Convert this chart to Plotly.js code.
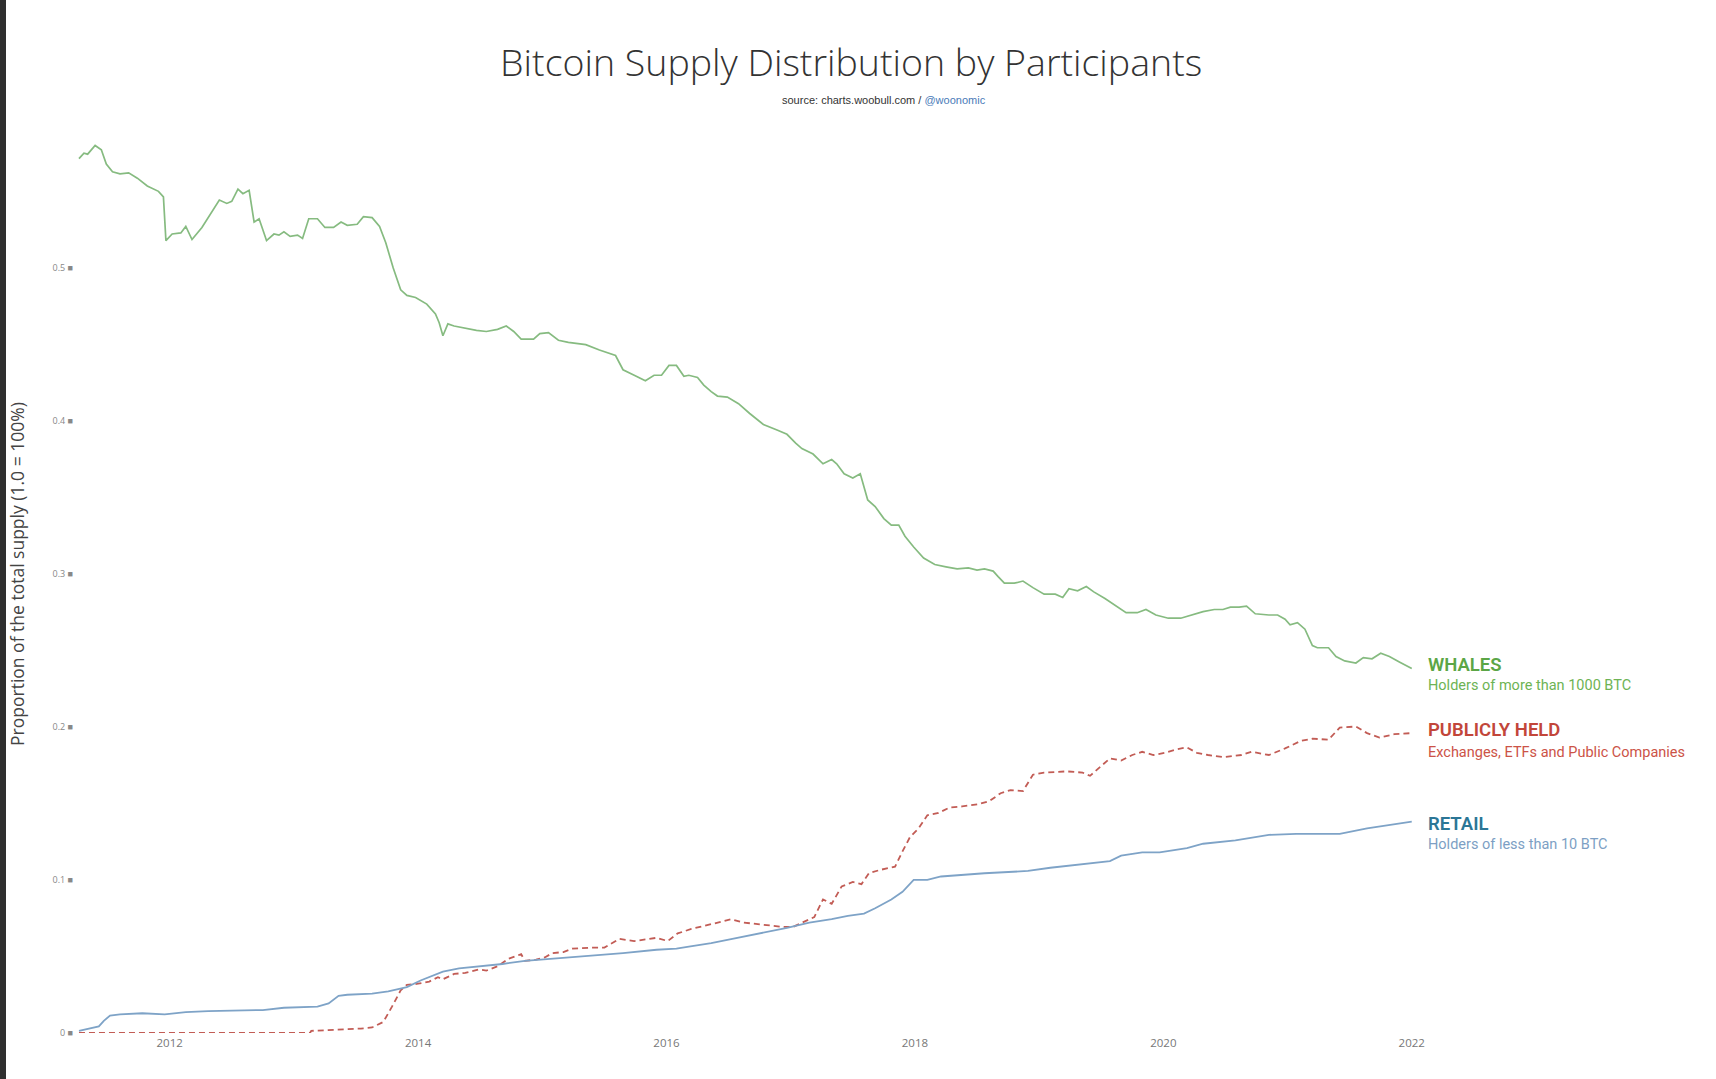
<!DOCTYPE html>
<html>
<head>
<meta charset="utf-8">
<script src="https://cdn.plot.ly/plotly-3.0.1.min.js"></script>
<style>
  html, body { margin: 0; padding: 0; background: #fff; }
  #leftbar { position: absolute; left: 0; top: 0; width: 6px; height: 1079px; background: #2f2f2f; z-index: 2; }
  #chart { width: 1716px; height: 1079px; }
</style>
</head>
<body>
<div id="leftbar"></div>
<div id="chart"></div>
<script>
// 고래 (>1000 BTC) - 연도(소수), 공급 비율
const whaleYears = [2011.27, 2011.31, 2011.34, 2011.40, 2011.45, 2011.49, 2011.54, 2011.60, 2011.67, 2011.74,
  2011.82, 2011.91, 2011.95, 2011.97, 2012.02, 2012.09, 2012.13, 2012.18, 2012.26, 2012.33,
  2012.40, 2012.46, 2012.50, 2012.55, 2012.59, 2012.64, 2012.68, 2012.72, 2012.78, 2012.84,
  2012.88, 2012.92, 2012.97, 2013.03, 2013.07, 2013.12, 2013.19, 2013.25, 2013.32, 2013.38,
  2013.43, 2013.51, 2013.56, 2013.63, 2013.69, 2013.74, 2013.80, 2013.86, 2013.91, 2013.98,
  2014.07, 2014.14, 2014.17, 2014.20, 2014.24, 2014.29, 2014.38, 2014.47, 2014.55, 2014.64,
  2014.71, 2014.77, 2014.83, 2014.93, 2014.98, 2015.05, 2015.13, 2015.21, 2015.35, 2015.46,
  2015.59, 2015.65, 2015.74, 2015.83, 2015.90, 2015.96, 2016.02, 2016.08, 2016.14, 2016.18,
  2016.25, 2016.30, 2016.36, 2016.41, 2016.49, 2016.58, 2016.67, 2016.78, 2016.89, 2016.97,
  2017.04, 2017.09, 2017.18, 2017.26, 2017.33, 2017.37, 2017.43, 2017.50, 2017.56, 2017.62,
  2017.68, 2017.75, 2017.81, 2017.87, 2017.92, 2017.99, 2018.07, 2018.16, 2018.25, 2018.34,
  2018.43, 2018.50, 2018.56, 2018.63, 2018.67, 2018.72, 2018.80, 2018.87, 2018.95, 2019.04,
  2019.13, 2019.19, 2019.24, 2019.31, 2019.38, 2019.44, 2019.53, 2019.61, 2019.70, 2019.79,
  2019.86, 2019.94, 2020.04, 2020.14, 2020.23, 2020.32, 2020.41, 2020.48, 2020.54, 2020.61,
  2020.67, 2020.74, 2020.85, 2020.92, 2020.98, 2021.02, 2021.08, 2021.14, 2021.20, 2021.24,
  2021.33, 2021.39, 2021.46, 2021.55, 2021.61, 2021.68, 2021.75, 2021.82, 2021.90, 2022.00];
const whaleValues = [0.5715, 0.5751, 0.5744, 0.5801, 0.5773, 0.5680, 0.5629, 0.5615, 0.5622, 0.5587,
  0.5536, 0.5501, 0.5465, 0.5179, 0.5222, 0.5229, 0.5272, 0.5186, 0.5265, 0.5358,
  0.5444, 0.5422, 0.5436, 0.5515, 0.5486, 0.5508, 0.5300, 0.5322, 0.5179, 0.5222,
  0.5215, 0.5236, 0.5207, 0.5215, 0.5193, 0.5322, 0.5322, 0.5265, 0.5265, 0.5300,
  0.5279, 0.5286, 0.5336, 0.5329, 0.5272, 0.5165, 0.5000, 0.4857, 0.4821, 0.4807,
  0.4764, 0.4700, 0.4642, 0.4557, 0.4635, 0.4621, 0.4607, 0.4592, 0.4585, 0.4599,
  0.4621, 0.4585, 0.4535, 0.4535, 0.4571, 0.4578, 0.4528, 0.4514, 0.4499, 0.4464,
  0.4428, 0.4335, 0.4299, 0.4263, 0.4299, 0.4299, 0.4363, 0.4363, 0.4292, 0.4299,
  0.4285, 0.4235, 0.4192, 0.4163, 0.4156, 0.4113, 0.4049, 0.3977, 0.3941, 0.3913,
  0.3856, 0.3820, 0.3784, 0.3720, 0.3748, 0.3720, 0.3655, 0.3627, 0.3655, 0.3484,
  0.3441, 0.3362, 0.3319, 0.3319, 0.3247, 0.3176, 0.3104, 0.3062, 0.3047, 0.3033,
  0.3040, 0.3026, 0.3033, 0.3019, 0.2983, 0.2940, 0.2940, 0.2954, 0.2911, 0.2868,
  0.2868, 0.2847, 0.2904, 0.2890, 0.2918, 0.2883, 0.2840, 0.2797, 0.2747, 0.2747,
  0.2768, 0.2732, 0.2711, 0.2711, 0.2732, 0.2754, 0.2768, 0.2768, 0.2783, 0.2783,
  0.2790, 0.2740, 0.2732, 0.2732, 0.2704, 0.2668, 0.2682, 0.2639, 0.2532, 0.2518,
  0.2518, 0.2461, 0.2432, 0.2418, 0.2454, 0.2446, 0.2482, 0.2461, 0.2425, 0.2382];

// 거래소/ETF/상장사 보유분
const publicYears = [2011.27, 2013.13, 2013.14, 2013.36, 2013.54, 2013.63, 2013.72, 2013.79, 2013.86, 2013.91,
  2014.00, 2014.09, 2014.16, 2014.20, 2014.29, 2014.38, 2014.49, 2014.55, 2014.64, 2014.73,
  2014.83, 2014.86, 2014.95, 2015.02, 2015.08, 2015.17, 2015.24, 2015.39, 2015.50, 2015.62,
  2015.74, 2015.92, 2016.01, 2016.09, 2016.20, 2016.31, 2016.45, 2016.52, 2016.62, 2016.80,
  2016.93, 2017.02, 2017.11, 2017.19, 2017.26, 2017.33, 2017.41, 2017.50, 2017.57, 2017.63,
  2017.72, 2017.84, 2017.90, 2017.96, 2018.03, 2018.10, 2018.19, 2018.28, 2018.38, 2018.51,
  2018.60, 2018.69, 2018.77, 2018.87, 2018.95, 2019.04, 2019.22, 2019.35, 2019.41, 2019.48,
  2019.57, 2019.66, 2019.75, 2019.83, 2019.92, 2020.01, 2020.10, 2020.19, 2020.27, 2020.36,
  2020.49, 2020.63, 2020.71, 2020.85, 2020.98, 2021.11, 2021.20, 2021.33, 2021.42, 2021.55,
  2021.64, 2021.74, 2021.86, 2022.00];
const publicValues = [0, 0, 0.0014, 0.0021, 0.0029, 0.0036, 0.0072, 0.0172, 0.0279, 0.0315,
  0.0322, 0.0336, 0.0365, 0.0351, 0.0386, 0.0393, 0.0415, 0.0408, 0.0436, 0.0486,
  0.0515, 0.0472, 0.0479, 0.0494, 0.0522, 0.0529, 0.0551, 0.0558, 0.0558, 0.0615,
  0.0601, 0.0622, 0.0601, 0.0651, 0.0680, 0.0701, 0.0730, 0.0744, 0.0722, 0.0708,
  0.0694, 0.0694, 0.0730, 0.0758, 0.0873, 0.0844, 0.0958, 0.0987, 0.0973, 0.1044,
  0.1066, 0.1087, 0.1187, 0.1280, 0.1338, 0.1423, 0.1438, 0.1474, 0.1481, 0.1495,
  0.1516, 0.1567, 0.1588, 0.1581, 0.1688, 0.1702, 0.1710, 0.1702, 0.1681, 0.1731,
  0.1795, 0.1781, 0.1817, 0.1838, 0.1817, 0.1831, 0.1853, 0.1867, 0.1831, 0.1817,
  0.1803, 0.1817, 0.1838, 0.1817, 0.1860, 0.1910, 0.1924, 0.1917, 0.1996, 0.2003,
  0.1960, 0.1931, 0.1953, 0.1960];

// 소매 (<10 BTC)
const retailYears = [2011.27, 2011.36, 2011.43, 2011.47, 2011.52, 2011.60, 2011.78, 2011.96, 2012.13, 2012.31,
  2012.75, 2012.92, 2013.19, 2013.28, 2013.36, 2013.43, 2013.63, 2013.76, 2013.91, 2014.02,
  2014.11, 2014.20, 2014.33, 2014.51, 2014.68, 2014.86, 2015.21, 2015.65, 2015.92, 2016.08,
  2016.18, 2016.36, 2016.53, 2016.71, 2016.97, 2017.15, 2017.33, 2017.46, 2017.59, 2017.68,
  2017.81, 2017.90, 2017.99, 2018.10, 2018.21, 2018.56, 2018.91, 2019.09, 2019.35, 2019.57,
  2019.66, 2019.83, 2019.97, 2020.19, 2020.32, 2020.58, 2020.85, 2021.07, 2021.42, 2021.64,
  2022.00];
const retailValues = [0.0014, 0.0029, 0.0043, 0.0079, 0.0114, 0.0122, 0.0129, 0.0122, 0.0136, 0.0143,
  0.0150, 0.0165, 0.0172, 0.0193, 0.0243, 0.0250, 0.0258, 0.0272, 0.0300, 0.0343,
  0.0372, 0.0401, 0.0422, 0.0436, 0.0451, 0.0472, 0.0494, 0.0522, 0.0544, 0.0551,
  0.0565, 0.0587, 0.0615, 0.0644, 0.0687, 0.0722, 0.0744, 0.0765, 0.0780, 0.0815,
  0.0873, 0.0923, 0.1001, 0.1001, 0.1023, 0.1044, 0.1059, 0.1080, 0.1101, 0.1123,
  0.1159, 0.1180, 0.1180, 0.1209, 0.1237, 0.1259, 0.1295, 0.1302, 0.1302, 0.1338,
  0.1381];

// 축 눈금
const xTickVals = [2012, 2014, 2016, 2018, 2020, 2022];
const yTickVals = [0, 0.1, 0.2, 0.3, 0.4, 0.5];
const yTickText = ["0", "0.1", "0.2", "0.3", "0.4", "0.5"];

const traces = [
  {
    x: whaleYears, y: whaleValues, type: "scatter", mode: "lines",
    line: { color: "#86bb80", width: 1.7 }
  },
  {
    x: publicYears, y: publicValues, type: "scatter", mode: "lines",
    line: { color: "#c25c55", width: 1.8, dash: "6px,4px" }
  },
  {
    x: retailYears, y: retailValues, type: "scatter", mode: "lines",
    line: { color: "#7ea3c7", width: 1.8 }
  }
];

// 오른쪽 라벨
const labelFont = "Roboto, 'Liberation Sans', sans-serif";
function label(text, y, color, size, weight) {
  return {
    text: text, xref: "paper", yref: "paper", x: 0.8365, y: y,
    xanchor: "left", yanchor: "middle", showarrow: false,
    font: { family: labelFont, size: size, color: color, weight: weight }
  };
}

const layout = {
  width: 1716,
  height: 1079,
  paper_bgcolor: "#ffffff",
  plot_bgcolor: "#ffffff",
  showlegend: false,
  hovermode: false,
  margin: { l: 74, r: 26, t: 115, b: 46 },
  title: {
    text: "Bitcoin Supply Distribution by Participants",
    xref: "container", yref: "container",
    x: 0.496, y: 0.9416, xanchor: "center", yanchor: "middle",
    font: { family: "'Open Sans', sans-serif", size: 37.5, color: "#333333", weight: 300 }
  },
  xaxis: {
    range: [2011.23, 2024.24],
    tickvals: xTickVals,
    ticktext: xTickVals.map(String),
    showgrid: false, zeroline: false, showline: false, ticks: "",
    ticklabelstandoff: 1,
    tickfont: { family: "'Open Sans', sans-serif", size: 11.5, color: "#777777" }
  },
  yaxis: {
    range: [0, 0.6],
    tickvals: yTickVals,
    ticktext: yTickText.map(t => t + " ■"),
    showgrid: false, zeroline: false, showline: false, ticks: "",
    tickfont: { family: "'Open Sans', sans-serif", size: 9, color: "#888888" }
  },
  annotations: [
    {
      text: "source: charts.woobull.com / <span style='color:#4a7bb8'>@woonomic</span>",
      xref: "paper", yref: "paper", x: (884 - 74) / 1616, y: (1033 - 100) / 918,
      xanchor: "center", yanchor: "middle", showarrow: false,
      font: { family: "'Liberation Sans', Arial, sans-serif", size: 11, color: "#333333" }
    },
    {
      text: "Proportion of the total supply (1.0 = 100%)",
      xref: "paper", yref: "paper", x: -0.0353, y: 0.5, textangle: -90,
      xanchor: "center", yanchor: "middle", showarrow: false,
      font: { family: "'Open Sans', sans-serif", size: 17.5, color: "#444444" }
    },
    label("WHALES", 0.4009, "#5ba646", 18.5, 600),
    label("Holders of more than 1000 BTC", 0.378, "#6db354", 14.5, "normal"),
    label("PUBLICLY HELD", 0.330, "#c2463a", 18.5, 600),
    label("Exchanges, ETFs and Public Companies", 0.306, "#cc5347", 14.5, "normal"),
    label("RETAIL", 0.2277, "#2b7696", 18.5, 600),
    label("Holders of less than 10 BTC", 0.2048, "#7d9fc4", 14.5, "normal")
  ]
};

Plotly.newPlot("chart", traces, layout, { displayModeBar: false, staticPlot: true });
</script>
</body>
</html>
